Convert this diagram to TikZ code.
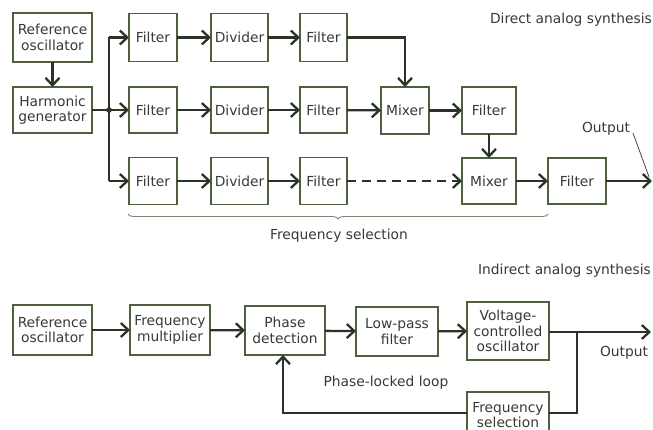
\documentclass[tikz,border=0pt]{standalone}
\usepackage{fontspec}
\setmainfont{DejaVu Sans}
\usetikzlibrary{arrows.meta,decorations.pathreplacing}
\definecolor{boxc}{HTML}{4E6042}
\definecolor{linec}{HTML}{2B3226}
\definecolor{txtc}{HTML}{363A32}
\tikzset{
  blk/.style={draw=boxc, line width=1.4pt, inner sep=0pt, outer sep=0pt, align=center,
    text=txtc, font=\fontsize{13.8}{15.4}\selectfont},
  conn/.style={draw=linec, line width=2.3pt, -{Straight Barb[length=7.5pt,width=14pt,line width=2.3pt]}},
  wire/.style={draw=linec, line width=2.3pt},
  lbl/.style={text=txtc, font=\fontsize{13.8}{15.4}\selectfont, inner sep=0pt},
}
\begin{document}
\begin{tikzpicture}[x=1pt,y=-1pt]
\useasboundingbox (0,0) rectangle (653,430);
\clip (0,0) rectangle (653,430);
% ---------- Direct analog synthesis ----------
\node[lbl, anchor=east] (tdir) at (652,20) {Direct analog synthesis};
\node[blk, minimum width=79pt, minimum height=49pt] (ro1) at (52.5,37.5) {Reference\\oscillator};
\node[blk, minimum width=79pt, minimum height=46pt] (hg) at (52.5,110) {Harmonic\\generator};
\node[blk, minimum width=48pt, minimum height=48pt] (f11) at (153,37.5) {Filter};
\node[blk, minimum width=57pt, minimum height=48pt] (d1) at (239.5,37.5) {Divider};
\node[blk, minimum width=47pt, minimum height=48pt] (f13) at (323.5,37.5) {Filter};
\node[blk, minimum width=48pt, minimum height=46pt] (f21) at (153,110) {Filter};
\node[blk, minimum width=57pt, minimum height=46pt] (d2) at (239.5,110) {Divider};
\node[blk, minimum width=47pt, minimum height=46pt] (f23) at (323.5,110) {Filter};
\node[blk, minimum width=48pt, minimum height=47pt] (mx1) at (405,110.5) {Mixer};
\node[blk, minimum width=54pt, minimum height=47pt] (f24) at (489,110.5) {Filter};
\node[blk, minimum width=48pt, minimum height=47pt] (f31) at (153,181) {Filter};
\node[blk, minimum width=57pt, minimum height=47pt] (d3) at (239.5,181) {Divider};
\node[blk, minimum width=47pt, minimum height=47pt] (f33) at (323.5,181) {Filter};
\node[blk, minimum width=54pt, minimum height=46pt] (mx2) at (489,181) {Mixer};
\node[blk, minimum width=58pt, minimum height=46pt] (f35) at (577,181) {Filter};
\coordinate (jn) at (109,110);
\coordinate (jtop) at (109,37.5);
\coordinate (jbot) at (109,181);
\coordinate (mxin) at (405,37.5);
\coordinate (out1) at (652,181);
\draw[conn] (ro1) -- (hg);
\draw[wire] (hg.east) -- (jn);
\fill[linec] (jn) circle (2.8pt);
\draw[wire] (jtop) -- (jbot);
\draw[conn] (jtop) -- (f11);
\draw[conn] (jn) -- (f21);
\draw[conn] (jbot) -- (f31);
\draw[conn] (f11) -- (d1);
\draw[conn] (d1) -- (f13);
\draw[conn] (f13.east) -- (mxin) -- (mx1.north);
\draw[conn] (f21) -- (d2);
\draw[conn] (d2) -- (f23);
\draw[conn] (f23) -- (mx1);
\draw[conn] (mx1) -- (f24);
\draw[conn] (f24) -- (mx2);
\draw[conn] (f31) -- (d3);
\draw[conn] (d3) -- (f33);
\draw[conn, dash pattern=on 9pt off 6pt] (f33) -- (mx2);
\draw[conn] (mx2) -- (f35);
\draw[conn] (f35) -- (out1);
\node[lbl] (o1) at (606,129) {Output};
\coordinate (o1a) at (633,133);
\coordinate (o1b) at (649,177);
\draw[linec, line width=0.7pt] (o1a) -- (o1b);
\coordinate (brl) at (128,214);
\coordinate (brr) at (548,214);
\draw[boxc!75, line width=0.9pt, decorate, decoration={brace, mirror, amplitude=5pt}] (brl) -- (brr);
\node[lbl] (fsel) at (339,236) {Frequency selection};
% ---------- Indirect analog synthesis ----------
\node[lbl, anchor=east] (tind) at (651,271) {Indirect analog synthesis};
\node[blk, minimum width=79pt, minimum height=50pt] (ro2) at (52.5,330) {Reference\\oscillator};
\node[blk, minimum width=80pt, minimum height=50pt] (fm) at (170,330) {Frequency\\multiplier};
\node[blk, minimum width=80pt, minimum height=49pt] (pd) at (285,330.5) {Phase\\detection};
\node[blk, minimum width=82pt, minimum height=49pt] (lp) at (397,331.5) {Low-pass\\filter};
\node[blk, minimum width=82pt, minimum height=58pt] (vco) at (508,331) {Voltage-\\controlled\\oscillator};
\node[blk, minimum width=82pt, minimum height=46pt] (fs) at (508,415) {Frequency\\selection};
\coordinate (j2) at (577,332);
\coordinate (j2b) at (577,413);
\coordinate (out2) at (651,332);
\coordinate (pdin) at (283,413);
\draw[conn] (ro2) -- (fm);
\draw[conn] (fm) -- (pd);
\draw[conn] (pd) -- (lp);
\draw[conn] (lp) -- (vco);
\draw[conn] (vco.east |- j2) -- (out2);
\draw[wire] (j2) -- (j2b) -- (fs.east |- j2b);
\draw[conn] (fs.west |- pdin) -- (pdin) -- (pdin |- pd.south);
\node[lbl] (o2) at (624,353) {Output};
\node[lbl] (pll) at (386,383) {Phase-locked loop};
\end{tikzpicture}
\end{document}
